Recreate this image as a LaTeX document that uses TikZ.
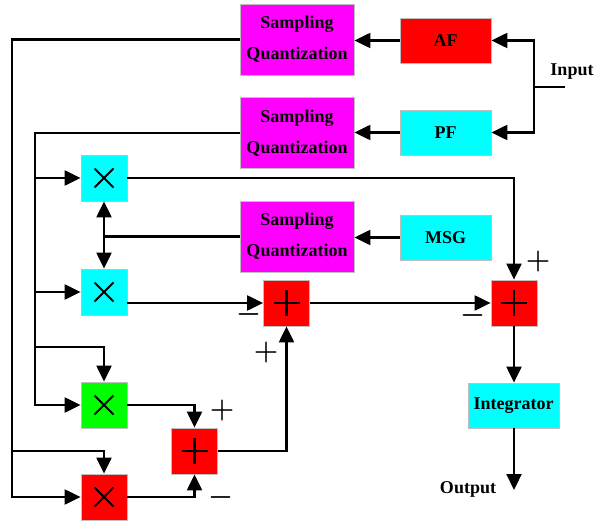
\documentclass[tikz,border=0pt]{standalone}
\usepackage{fontspec}
\setmainfont{Liberation Serif}
\usetikzlibrary{arrows.meta}
\definecolor{cmag}{RGB}{255,0,255}
\definecolor{ccyan}{RGB}{0,255,255}
\definecolor{cred}{RGB}{255,0,0}
\definecolor{cgreen}{RGB}{0,255,0}
\begin{document}
\begin{tikzpicture}[x=1pt,y=-1pt,
  blk/.style={draw=black!25, line width=0.8pt, inner sep=0pt, align=center, font=\fontsize{18}{31}\selectfont\bfseries},
  sqbox/.style={blk, fill=cmag, minimum width=114pt, minimum height=71pt},
  fbox/.style={blk, minimum width=91pt, minimum height=45pt},
  opbox/.style={blk, minimum width=46pt, minimum height=46pt},
  mulbox/.style={opbox, path picture={
     \draw[black, line width=1.9pt]
       ([xshift=-9.5pt,yshift=-9.5pt]path picture bounding box.center) -- ([xshift=9.5pt,yshift=9.5pt]path picture bounding box.center)
       ([xshift=-9.5pt,yshift=9.5pt]path picture bounding box.center) -- ([xshift=9.5pt,yshift=-9.5pt]path picture bounding box.center);}},
  sumbox/.style={opbox, fill=cred, path picture={
     \draw[black, line width=2.1pt]
       ([xshift=-13pt]path picture bounding box.center) -- ([xshift=13pt]path picture bounding box.center)
       ([yshift=-13pt]path picture bounding box.center) -- ([yshift=13pt]path picture bounding box.center);}},
  wire/.style={line width=2.2pt},
  arr/.style={wire, -{Triangle[length=16pt,width=15pt]}},
  darr/.style={wire, {Triangle[length=16pt,width=15pt]}-{Triangle[length=16pt,width=15pt]}},
  sign/.style={inner sep=0pt, font=\fontsize{20.74}{24}\selectfont\boldmath, scale=1.35},
  lbl/.style={inner sep=0pt, font=\fontsize{18}{22}\selectfont\bfseries}
]
\useasboundingbox (0,0) rectangle (601,521);
% blocks
\node[sqbox] (sq1) at (297,39.5) {Sampling\\Quantization};
\node[sqbox] (sq2) at (297,133) {Sampling\\Quantization};
\node[sqbox] (sq3) at (297,236.5) {Sampling\\Quantization};
\node[fbox, fill=cred] (af) at (445.5,40.5) {AF};
\node[fbox, fill=ccyan] (pf) at (445.5,132.5) {PF};
\node[fbox, fill=ccyan] (msg) at (445.5,237.5) {MSG};
\node[mulbox, fill=ccyan] (m1) at (104,178) {};
\node[mulbox, fill=ccyan] (m2) at (104,292) {};
\node[mulbox, fill=cgreen] (m3) at (104,405) {};
\node[mulbox, fill=cred] (m4) at (104,497) {};
\node[sumbox] (s1) at (286.5,303) {};
\node[sumbox] (s2) at (514,303) {};
\node[sumbox] (s3) at (194.5,451) {};
\node[fbox, fill=ccyan] (int) at (513.5,405.5) {Integrator};
\node[lbl] (inp) at (572,72) {Input};
\node[lbl] (outp) at (468,489) {Output};
% coordinates
\coordinate (inj) at (534,87);
\coordinate (ine) at (565,87);
\coordinate (oute) at (514,490);
\coordinate (busA) at (12,41);
\coordinate (busB) at (35,132);
\coordinate (br3) at (35,347);
% wires
\draw[wire] (ine) -- (inj);
\draw[arr] (inj) |- (af.east);
\draw[arr] (inj) |- (pf.east);
\draw[arr] (af.west) -- (af.west -| sq1.east);
\draw[arr] (pf.west) -- (pf.west -| sq2.east);
\draw[arr] (msg.west) -- (msg.west -| sq3.east);
\draw[arr] (sq1.west) -| (busA |- m4.west) -- (m4.west);
\draw[arr] (busA |- s3) -| (m4.north);
\draw[arr] (sq2.west) -| (busB |- m3.west) -- (m3.west);
\draw[arr] (busB |- m1) -- (m1.west);
\draw[arr] (busB |- m2) -- (m2.west);
\draw[arr] (br3) -| (m3.north);
\draw[wire] (sq3.west) -- (sq3.west -| m1.south);
\draw[darr] (m1.south) -- (m2.north);
\draw[arr] (m1.east) -| (s2.north);
\draw[arr] (m2.east |- s1.west) -- (s1.west);
\draw[arr] (s1.east) -- (s2.west);
\draw[arr] (s2.south) -- (s2.south |- int.north);
\draw[arr] (int.south -| oute) -- (oute);
\draw[arr] (m3.east) -| (s3.north);
\draw[arr] (m4.east) -| (s3.south);
\draw[arr] (s3.east) -| (s1.south);
% signs
\node[sign] (p1) at (538,261) {$+$};
\node[sign] (n1) at (473,315) {$-$};
\node[sign] (n2) at (249,314) {$-$};
\node[sign] (p2) at (266,352) {$+$};
\node[sign] (p3) at (222,410) {$+$};
\node[sign] (n3) at (221,497) {$-$};
\end{tikzpicture}
\end{document}
